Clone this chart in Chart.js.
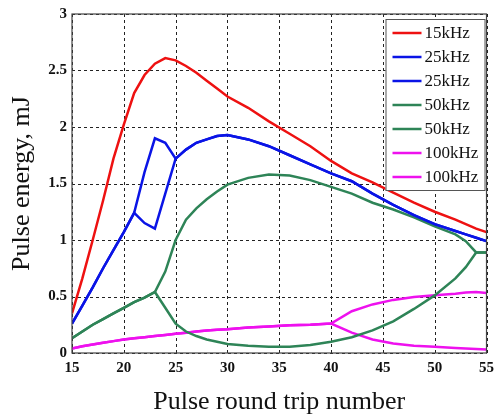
<!DOCTYPE html>
<html>
<head>
<meta charset="utf-8">
<script src="https://cdn.jsdelivr.net/npm/chart.js@4/dist/chart.umd.min.js"></script>
<style>
  html, body { margin: 0; padding: 0; background: #fff; }
  #wrap { width: 500px; height: 418px; }
</style>
</head>
<body>
<div id="wrap"><canvas id="energyChart" width="500" height="418"></canvas></div>
<script>
// round trip numbers (x)
const roundTrips = [15, 16, 17, 18, 19, 20, 21, 22, 23, 24, 25, 26, 27, 28, 29, 30,
                    32, 34, 36, 38, 40, 42, 44, 46, 48, 50, 52, 53, 54, 55];

// pulse energy, mJ
const e15 = [0.35, 0.66, 1.00, 1.35, 1.72, 2.02, 2.30, 2.46, 2.56, 2.61, 2.59, 2.54, 2.48, 2.41, 2.34, 2.27,
             2.17, 2.05, 1.94, 1.83, 1.70, 1.59, 1.51, 1.42, 1.33, 1.25, 1.18, 1.14, 1.10, 1.07];
const e25a = [0.26, 0.42, 0.58, 0.75, 0.91, 1.07, 1.24, 1.60, 1.90, 1.86, 1.72, 1.80, 1.86, 1.89, 1.92, 1.93,
              1.89, 1.83, 1.75, 1.67, 1.59, 1.52, 1.41, 1.31, 1.22, 1.14, 1.08, 1.05, 1.02, 0.99];
const e25b = [0.26, 0.42, 0.58, 0.75, 0.91, 1.07, 1.24, 1.15, 1.10, 1.41, 1.72, 1.80, 1.86, 1.89, 1.92, 1.93,
              1.89, 1.83, 1.75, 1.67, 1.59, 1.52, 1.41, 1.31, 1.22, 1.14, 1.08, 1.05, 1.02, 0.99];
const e50a = [0.13, 0.19, 0.25, 0.30, 0.35, 0.40, 0.45, 0.49, 0.54, 0.72, 1.00, 1.18, 1.28, 1.36, 1.43, 1.49,
              1.55, 1.58, 1.57, 1.53, 1.47, 1.41, 1.33, 1.27, 1.20, 1.12, 1.05, 0.99, 0.89, 0.89];
const e50b = [0.13, 0.19, 0.25, 0.30, 0.35, 0.40, 0.45, 0.49, 0.54, 0.40, 0.26, 0.19, 0.15, 0.12, 0.10, 0.08,
              0.065, 0.055, 0.055, 0.07, 0.10, 0.14, 0.20, 0.28, 0.39, 0.51, 0.66, 0.76, 0.89, 0.89];
const e100a = [0.04, 0.06, 0.075, 0.09, 0.105, 0.12, 0.13, 0.14, 0.15, 0.16, 0.17, 0.18, 0.19, 0.20, 0.205, 0.21,
               0.225, 0.235, 0.245, 0.25, 0.26, 0.37, 0.43, 0.47, 0.495, 0.51, 0.525, 0.535, 0.54, 0.53];
const e100b = [0.04, 0.06, 0.075, 0.09, 0.105, 0.12, 0.13, 0.14, 0.15, 0.16, 0.17, 0.18, 0.19, 0.20, 0.205, 0.21,
               0.225, 0.235, 0.245, 0.25, 0.26, 0.18, 0.12, 0.085, 0.065, 0.055, 0.045, 0.04, 0.035, 0.03];

const seriesLabels = ["15kHz", "25kHz", "25kHz", "50kHz", "50kHz", "100kHz", "100kHz"];
const seriesColors = ["#ee1111", "#0a14e6", "#0a14e6", "#2e8457", "#2e8457", "#ee11ee", "#ee11ee"];
const seriesData = [e15, e25a, e25b, e50a, e50b, e100a, e100b];

const SERIF = "'Liberation Serif', 'DejaVu Serif', serif";

// dashed grid (drawn from the scale ticks)
const dashedGrid = {
    id: "dashedGrid",
    beforeDatasetsDraw(chart) {
        const { ctx, chartArea: a, scales } = chart;
        ctx.save();
        ctx.strokeStyle = "#222";
        ctx.lineWidth = 1;
        ctx.setLineDash([3, 3]);
        scales.x.ticks.forEach(t => {
            const px = Math.round(scales.x.getPixelForValue(t.value)) + 0.5;
            ctx.beginPath();
            ctx.moveTo(px, a.top);
            ctx.lineTo(px, a.bottom);
            ctx.stroke();
        });
        scales.y.ticks.forEach(t => {
            const py = Math.round(scales.y.getPixelForValue(t.value)) + 0.5;
            ctx.beginPath();
            ctx.moveTo(a.left, py);
            ctx.lineTo(a.right, py);
            ctx.stroke();
        });
        ctx.restore();
    }
};

// frame around the plot + legend box in the top right corner
const frameLegend = {
    id: "frameLegend",
    afterDatasetsDraw(chart) {
        const { ctx, chartArea: a } = chart;
        ctx.save();
        ctx.strokeStyle = "#444";
        ctx.lineWidth = 1.2;
        ctx.strokeRect(a.left, a.top, a.right - a.left, a.bottom - a.top);

        const bw = 99, bh = 171;
        const bx = a.right - bw - 2, by = a.top + 5;
        ctx.fillStyle = "#fff";
        ctx.fillRect(bx, by, bw, bh);
        ctx.strokeStyle = "#555";
        ctx.lineWidth = 1;
        ctx.strokeRect(bx + 0.5, by + 0.5, bw, bh);

        ctx.font = "17px " + SERIF;
        ctx.textBaseline = "middle";
        chart.data.datasets.forEach((ds, i) => {
            const y = by + 14 + i * 24;
            ctx.strokeStyle = ds.borderColor;
            ctx.lineWidth = 2.5;
            ctx.beginPath();
            ctx.moveTo(bx + 7, y);
            ctx.lineTo(bx + 36, y);
            ctx.stroke();
            ctx.fillStyle = "#111";
            ctx.fillText(ds.label, bx + 39, y + 1);
        });
        ctx.restore();
    }
};

const ctx = document.getElementById("energyChart").getContext("2d");
new Chart(ctx, {
    type: "line",
    data: {
        datasets: seriesData.map((vals, i) => ({
            label: seriesLabels[i],
            data: vals.map((v, j) => ({ x: roundTrips[j], y: v })),
            borderColor: seriesColors[i],
            borderWidth: 2.5,
            pointRadius: 0,
            tension: 0,
            fill: false
        }))
    },
    options: {
        responsive: false,
        animation: false,
        layout: { padding: { top: 14, right: 9, left: 0, bottom: 0 } },
        plugins: { legend: { display: false }, tooltip: { enabled: false } },
        scales: {
            x: {
                type: "linear",
                min: 15, max: 55,
                ticks: { stepSize: 5, color: "#111", padding: 6, font: { family: SERIF, size: 15, weight: "bold" } },
                grid: { display: false, drawTicks: false },
                border: { display: false },
                title: { display: true, text: "Pulse round trip number", color: "#111", padding: { top: 6, bottom: 0 },
                         font: { family: SERIF, size: 26 } },
                afterFit(s) { s.height = 65; }
            },
            y: {
                min: 0, max: 3,
                ticks: { stepSize: 0.5, color: "#111", padding: 5, font: { family: SERIF, size: 15, weight: "bold" },
                         callback: v => String(v) },
                grid: { display: false, drawTicks: false },
                border: { display: false },
                title: { display: true, text: "Pulse energy, mJ", color: "#111", padding: { top: 7, bottom: 0 },
                         font: { family: SERIF, size: 26 } },
                afterFit(s) { s.width = 72; }
            }
        }
    },
    plugins: [dashedGrid, frameLegend]
});
</script>
</body>
</html>
